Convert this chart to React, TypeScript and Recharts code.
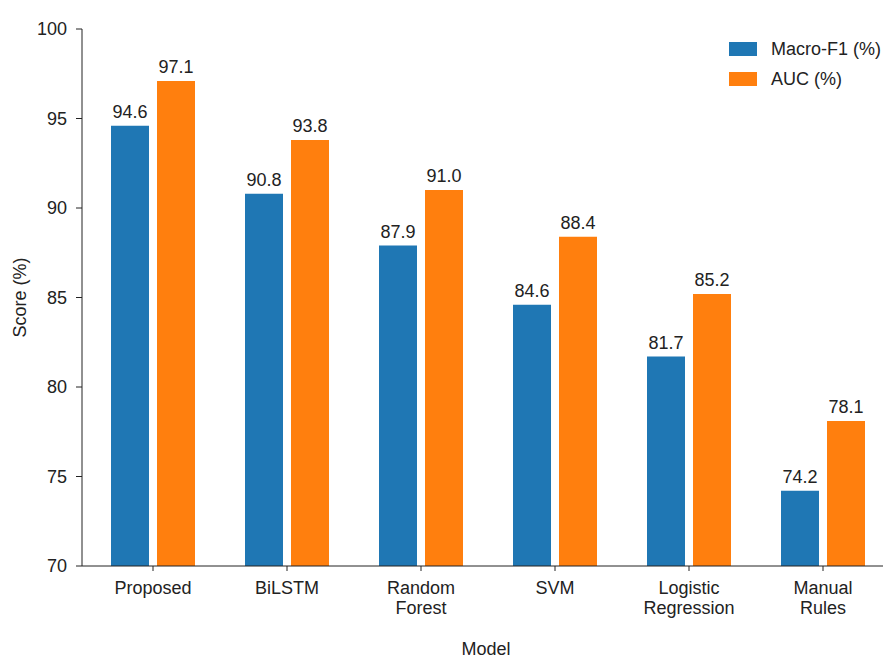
import { BarChart, Bar, XAxis, YAxis, LabelList } from 'recharts'

const models = ['Proposed', 'BiLSTM', 'Random Forest', 'SVM', 'Logistic Regression', 'Manual Rules']
const macroF1 = [94.6, 90.8, 87.9, 84.6, 81.7, 74.2]
const auc = [97.1, 93.8, 91.0, 88.4, 85.2, 78.1]
const yTicks = [70, 75, 80, 85, 90, 95, 100]

const data = models.map((model, i) => ({ model, f1: macroF1[i], auc: auc[i] }))

const FONT = '"Liberation Sans", Arial, sans-serif'
const INK = '#222'
const BLUE = '#1f77b4'
const ORANGE = '#ff7f0e'

function ModelTick({ x, y, payload }: any) {
  const words = String(payload.value).split(' ')
  return (
    <text x={x} y={y} textAnchor="middle" fill={INK} fontSize={18} fontFamily={FONT}>
      {words.map((w, i) => (
        <tspan key={w} x={x} dy={i === 0 ? 21 : 20}>
          {w}
        </tspan>
      ))}
    </text>
  )
}

function LegendBox() {
  const items = [
    { label: 'Macro-F1 (%)', color: BLUE },
    { label: 'AUC (%)', color: ORANGE },
  ]
  return (
    <div
      style={{
        position: 'absolute',
        top: 34,
        left: 729,
        fontFamily: FONT,
        fontSize: 18,
        color: INK,
      }}
    >
      {items.map((it) => (
        <div key={it.label} style={{ display: 'flex', alignItems: 'center', height: 30 }}>
          <span style={{ width: 28, height: 14, background: it.color, marginRight: 14 }} />
          <span>{it.label}</span>
        </div>
      ))}
    </div>
  )
}

export default function App() {
  return (
    <div
      style={{
        position: 'absolute',
        left: 0,
        top: 0,
        width: 883,
        height: 659,
        overflow: 'hidden',
        background: '#fff',
      }}
    >
      <BarChart
        width={890}
        height={659}
        data={data}
        margin={{ top: 29, right: 0, left: 0, bottom: 0 }}
        barCategoryGap={25}
        barGap={8}
      >
        <XAxis
          dataKey="model"
          height={93}
          padding={{ left: 4, right: 0 }}
          tick={<ModelTick />}
          tickSize={5}
          stroke={INK}
          interval={0}
          label={{
            value: 'Model',
            position: 'insideBottom',
            offset: 4,
            fill: INK,
            fontSize: 18,
            fontFamily: FONT,
          }}
        />
        <YAxis
          width={82}
          domain={[70, 100]}
          ticks={yTicks}
          allowDataOverflow
          tickSize={6}
          tickMargin={9}
          stroke={INK}
          tick={{ fill: INK, fontSize: 18, fontFamily: FONT }}
          label={{
            content: ({ viewBox }: any) => {
              const cy = viewBox.y + viewBox.height / 2
              return (
                <text
                  x={20}
                  y={cy}
                  transform={`rotate(-90, 20, ${cy})`}
                  textAnchor="middle"
                  dominantBaseline="central"
                  fill={INK}
                  fontSize={18}
                  fontFamily={FONT}
                >
                  Score (%)
                </text>
              )
            },
          }}
        />
        <Bar dataKey="f1" name="Macro-F1 (%)" fill={BLUE} isAnimationActive={false}>
          <LabelList
            dataKey="f1"
            position="top"
            offset={8}
            formatter={(v: any) => Number(v).toFixed(1)}
            fill={INK}
            fontSize={18}
            fontFamily={FONT}
          />
        </Bar>
        <Bar dataKey="auc" name="AUC (%)" fill={ORANGE} isAnimationActive={false}>
          <LabelList
            dataKey="auc"
            position="top"
            offset={8}
            formatter={(v: any) => Number(v).toFixed(1)}
            fill={INK}
            fontSize={18}
            fontFamily={FONT}
          />
        </Bar>
      </BarChart>
      <LegendBox />
    </div>
  )
}
